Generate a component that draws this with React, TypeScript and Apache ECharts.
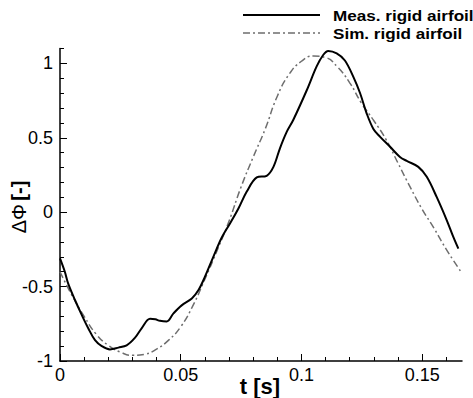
import React, { useEffect, useRef } from "react";
import * as echarts from "echarts";

const measT = [0, 0.002, 0.0034, 0.0062, 0.009, 0.0117, 0.0145, 0.0173, 0.0207, 0.0242, 0.0276, 0.031, 0.0338, 0.0373, 0.0395, 0.0414, 0.0442, 0.047, 0.0504, 0.0546, 0.0573, 0.06, 0.0635, 0.067, 0.0704, 0.0739, 0.0773, 0.0815, 0.0856, 0.0884, 0.0911, 0.0939, 0.0966, 0.1022, 0.1063, 0.109, 0.1111, 0.1146, 0.118, 0.1215, 0.1243, 0.127, 0.1298, 0.1326, 0.1367, 0.1408, 0.1436, 0.1484, 0.1519, 0.156, 0.1602, 0.1629, 0.165];
const measV = [-0.31, -0.4, -0.48, -0.59, -0.69, -0.78, -0.86, -0.9, -0.922, -0.91, -0.895, -0.845, -0.78, -0.716, -0.72, -0.73, -0.734, -0.68, -0.626, -0.58, -0.525, -0.435, -0.3, -0.17, -0.076, 0.025, 0.137, 0.234, 0.245, 0.305, 0.43, 0.54, 0.62, 0.82, 0.98, 1.057, 1.084, 1.068, 1.02, 0.91, 0.8, 0.665, 0.56, 0.507, 0.44, 0.372, 0.345, 0.305, 0.238, 0.103, -0.054, -0.166, -0.245];

const simT = [0, 0.005, 0.01, 0.015, 0.02, 0.025, 0.03, 0.035, 0.04, 0.045, 0.05, 0.055, 0.06, 0.065, 0.07, 0.075, 0.08, 0.085, 0.09, 0.095, 0.1, 0.105, 0.11, 0.115, 0.12, 0.125, 0.13, 0.135, 0.14, 0.145, 0.15, 0.155, 0.16, 0.1665];
const simV = [-0.4, -0.56, -0.7, -0.82, -0.895, -0.94, -0.962, -0.955, -0.92, -0.86, -0.77, -0.63, -0.45, -0.26, -0.06, 0.17, 0.37, 0.56, 0.78, 0.93, 1.015, 1.05, 1.04, 0.975, 0.87, 0.73, 0.615, 0.49, 0.33, 0.17, 0.02, -0.11, -0.25, -0.41];

const xTickLabels = [0, 0.05, 0.1, 0.15];
const xMinorTicks = [0.01, 0.02, 0.03, 0.04, 0.06, 0.07, 0.08, 0.09, 0.11, 0.12, 0.13, 0.14, 0.16];
const yTickLabels = [-1, -0.5, 0, 0.5, 1];
const yMinorTicks = [-0.9, -0.8, -0.7, -0.6, -0.4, -0.3, -0.2, -0.1, 0.1, 0.2, 0.3, 0.4, 0.6, 0.7, 0.8, 0.9, 1.1];

const seriesNames = ["Meas. rigid airfoil", "Sim. rigid airfoil"];

const FONT = '"Liberation Sans", Arial, Helvetica, sans-serif';

export default function App() {
  const ref = useRef<HTMLDivElement>(null);
  useEffect(() => {
    if (!ref.current) return;
    const chart = echarts.init(ref.current, undefined, { renderer: "svg" });
    const X_MIN = 0, X_MAX = 0.1665, Y_MIN = -1, Y_MAX = 1.1;
    const baseAxis = { type: "value" as const, min: X_MIN, max: X_MAX };
    chart.setOption({
      animation: false,
      backgroundColor: "#ffffff",
      grid: { left: 60, right: 11, top: 48.6, bottom: 37, containLabel: false },
      xAxis: [
        {
          ...baseAxis,
          position: "bottom",
          axisLine: { show: true, onZero: false, lineStyle: { color: "#000", width: 1.5 } },
          axisTick: { show: true, inside: true, length: 7, customValues: xTickLabels, lineStyle: { color: "#000", width: 1 } },
          axisLabel: {
            show: true, customValues: xTickLabels, margin: 5, color: "#000",
            fontFamily: FONT, fontSize: 18,
            formatter: (v: number) => String(v),
          },
          splitLine: { show: false },
        },
        {
          ...baseAxis,
          position: "bottom",
          axisLine: { show: false, onZero: false },
          axisTick: { show: true, inside: true, length: 4, customValues: xMinorTicks, lineStyle: { color: "#000", width: 1 } },
          axisLabel: { show: false },
          splitLine: { show: false },
        },
      ],
      yAxis: [
        {
          type: "value", min: Y_MIN, max: Y_MAX, position: "left",
          axisLine: { show: true, onZero: false, lineStyle: { color: "#000", width: 1.5 } },
          axisTick: { show: true, inside: true, length: 7, customValues: yTickLabels, lineStyle: { color: "#000", width: 1 } },
          axisLabel: {
            show: true, customValues: yTickLabels, margin: 7, color: "#000",
            fontFamily: FONT, fontSize: 18,
            formatter: (v: number) => String(v),
          },
          splitLine: { show: false },
        },
        {
          type: "value", min: Y_MIN, max: Y_MAX, position: "left",
          axisLine: { show: false, onZero: false },
          axisTick: { show: true, inside: true, length: 4, customValues: yMinorTicks, lineStyle: { color: "#000", width: 1 } },
          axisLabel: { show: false },
          splitLine: { show: false },
        },
      ],
      series: [
        {
          name: seriesNames[1],
          type: "line",
          xAxisIndex: 0, yAxisIndex: 0,
          data: simT.map((t, i) => [t, simV[i]]),
          showSymbol: false,
          smooth: 0.5,
          lineStyle: { color: "#6e6e6e", width: 1.5, type: [7, 3, 2, 3] },
          z: 2,
        },
        {
          name: seriesNames[0],
          type: "line",
          xAxisIndex: 0, yAxisIndex: 0,
          data: measT.map((t, i) => [t, measV[i]]),
          showSymbol: false,
          smooth: 0.35,
          lineStyle: { color: "#000000", width: 2 },
          z: 3,
        },
      ],
      graphic: [
        { type: "line", shape: { x1: 243, y1: 15, x2: 320, y2: 15 }, style: { stroke: "#000", lineWidth: 2 } },
        { type: "line", shape: { x1: 243, y1: 33, x2: 320, y2: 33 }, style: { stroke: "#6e6e6e", lineWidth: 1.5, lineDash: [7, 3, 2, 3] } },
        {
          type: "text", x: 333, y: 15, scaleX: 1.14,
          style: { text: seriesNames[0], font: `bold 15px ${FONT}`, fill: "#000", textAlign: "left", textVerticalAlign: "middle" },
        },
        {
          type: "text", x: 333, y: 33, scaleX: 1.14,
          style: { text: seriesNames[1], font: `bold 15px ${FONT}`, fill: "#000", textAlign: "left", textVerticalAlign: "middle" },
        },
        {
          type: "text", x: 260, y: 386,
          style: { text: "t [s]", font: `bold 22px ${FONT}`, fill: "#000", textAlign: "center", textVerticalAlign: "middle" },
        },
        {
          type: "text", x: 19, y: 207, rotation: Math.PI / 2,
          style: {
            text: "{a|ΔΦ} {b|[-]}",
            textAlign: "center", textVerticalAlign: "middle",
            rich: {
              a: { fontFamily: FONT, fontSize: 20, fontWeight: "normal", fill: "#000" },
              b: { fontFamily: FONT, fontSize: 20, fontWeight: "bold", fill: "#000" },
            },
          },
        },
      ],
    });
    return () => chart.dispose();
  }, []);
  return <div ref={ref} style={{ position: "absolute", left: 0, top: 0, width: 473, height: 398 }} />;
}
